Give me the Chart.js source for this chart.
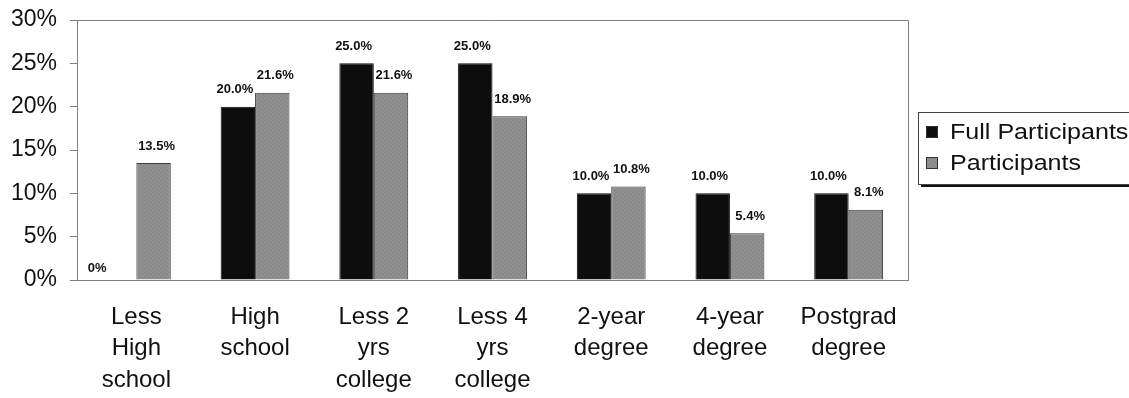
<!DOCTYPE html>
<html>
<head>
<meta charset="utf-8">
<script src="https://cdn.jsdelivr.net/npm/chart.js@4.4.1/dist/chart.umd.min.js"></script>
<style>
  html, body { margin: 0; padding: 0; background: #fff; }
  #wrap { width: 1129px; height: 398px; position: relative; }
</style>
</head>
<body>
<div id="wrap"><canvas id="c" width="1129" height="398"></canvas></div>
<script>
// Education level of respondents, share of each group (%)
const categories = [
  ["Less", "High", "school"],
  ["High", "school"],
  ["Less 2", "yrs", "college"],
  ["Less 4", "yrs", "college"],
  ["2-year", "degree"],
  ["4-year", "degree"],
  ["Postgrad", "degree"]
];
const fullParticipants = [0, 20.0, 25.0, 25.0, 10.0, 10.0, 10.0];
const participants = [13.5, 21.6, 21.6, 18.9, 10.8, 5.4, 8.1];
const seriesNames = ["Full Participants", "Participants"];
const yTicks = [0, 5, 10, 15, 20, 25, 30];

const FONT = "'Liberation Sans', Arial, sans-serif";

// Fine stippled grey fill for the second series
function greyPattern() {
  const p = document.createElement('canvas');
  p.width = 4; p.height = 4;
  const g = p.getContext('2d');
  g.fillStyle = '#8d8d8d';
  g.fillRect(0, 0, 4, 4);
  g.fillStyle = '#828282';
  g.fillRect(0, 0, 1, 1); g.fillRect(2, 2, 1, 1);
  g.fillStyle = '#989898';
  g.fillRect(2, 0, 1, 1); g.fillRect(0, 2, 1, 1);
  return g.createPattern(p, 'repeat');
}

const frame = {
  id: 'frame',
  afterDatasetsDraw(chart) {
    const { ctx, chartArea: a } = chart;
    ctx.save();
    ctx.strokeStyle = '#808080';
    ctx.lineWidth = 1;
    ctx.beginPath();
    ctx.moveTo(a.left, a.top + 0.5);
    ctx.lineTo(a.right + 0.5, a.top + 0.5);
    ctx.lineTo(a.right + 0.5, a.bottom);
    ctx.stroke();
    ctx.restore();
  }
};

const valueLabels = {
  id: 'valueLabels',
  afterDatasetsDraw(chart) {
    const ctx = chart.ctx;
    ctx.save();
    ctx.font = 'bold 13px ' + FONT;
    ctx.fillStyle = '#111';
    ctx.textAlign = 'center';
    ctx.textBaseline = 'middle';
    chart.data.datasets.forEach((ds, di) => {
      const meta = chart.getDatasetMeta(di);
      meta.data.forEach((bar, i) => {
        const v = ds.data[i];
        const txt = v === 0 ? '0%' : v.toFixed(1) + '%';
        let x = bar.x + (di === 0 ? -3 : 3);
        if (v === 0) x = bar.x - 22;
        const y = v === 0 ? bar.y - 12 : bar.y - 17;
        ctx.fillText(txt, x, y);
      });
    });
    ctx.restore();
  }
};

const boxLegend = {
  id: 'boxLegend',
  afterDraw(chart) {
    const ctx = chart.ctx;
    const x = 918, y = 112, w = 215, h = 72;
    ctx.save();
    ctx.fillStyle = '#111';
    ctx.fillRect(x + 3, y + 3, w, h);
    ctx.fillStyle = '#fff';
    ctx.fillRect(x, y, w, h);
    ctx.strokeStyle = '#444';
    ctx.lineWidth = 1;
    ctx.strokeRect(x + 0.5, y + 0.5, w, h);
    const fills = ['#0d0d0d', greyPattern()];
    const rows = [132, 163];
    seriesNames.forEach((name, i) => {
      ctx.fillStyle = fills[i];
      ctx.fillRect(926, rows[i] - 6, 12, 12);
      ctx.strokeStyle = '#333';
      ctx.strokeRect(926.5, rows[i] - 5.5, 11, 11);
      ctx.save();
      ctx.translate(950, rows[i] + 1);
      ctx.scale(1.14, 1);
      ctx.font = '22px ' + FONT;
      ctx.textBaseline = 'middle';
      ctx.textAlign = 'left';
      ctx.fillStyle = '#111';
      ctx.fillText(name, 0, 0);
      ctx.restore();
    });
    ctx.restore();
  }
};

new Chart(document.getElementById('c'), {
  type: 'bar',
  data: {
    labels: categories,
    datasets: [
      {
        label: seriesNames[0],
        data: fullParticipants,
        backgroundColor: '#0d0d0d',
        borderColor: '#0d0d0d',
        borderWidth: 1
      },
      {
        label: seriesNames[1],
        data: participants,
        backgroundColor: greyPattern(),
        borderColor: '#3a3a3a',
        borderWidth: 1
      }
    ]
  },
  options: {
    responsive: false,
    animation: false,
    devicePixelRatio: 1,
    layout: { padding: { top: 20, right: 221, left: 0, bottom: 0 } },
    plugins: {
      legend: { display: false },
      tooltip: { enabled: false }
    },
    datasets: {
      bar: { categoryPercentage: 0.58, barPercentage: 1.0 }
    },
    scales: {
      x: {
        grid: { display: false, drawTicks: false },
        border: { display: true, color: '#808080', width: 1 },
        ticks: {
          color: '#111',
          font: { family: FONT, size: 24, lineHeight: 1.3 },
          padding: 22,
          maxRotation: 0,
          autoSkip: false
        },
        afterFit(s) { s.height = 118; s.paddingLeft = 0; s.paddingRight = 0; }
      },
      y: {
        min: 0,
        max: 30,
        afterBuildTicks(s) { s.ticks = yTicks.map(v => ({ value: v })); },
        grid: { drawOnChartArea: false, drawTicks: true, tickLength: 7, color: '#808080' },
        border: { display: true, color: '#808080', width: 1 },
        ticks: {
          color: '#111',
          font: { family: FONT, size: 23 },
          padding: 13,
          callback: v => v + '%'
        },
        afterFit(s) { s.width = 77; s.paddingTop = 0; s.paddingBottom = 0; }
      }
    }
  },
  plugins: [frame, valueLabels, boxLegend]
});
</script>
</body>
</html>
